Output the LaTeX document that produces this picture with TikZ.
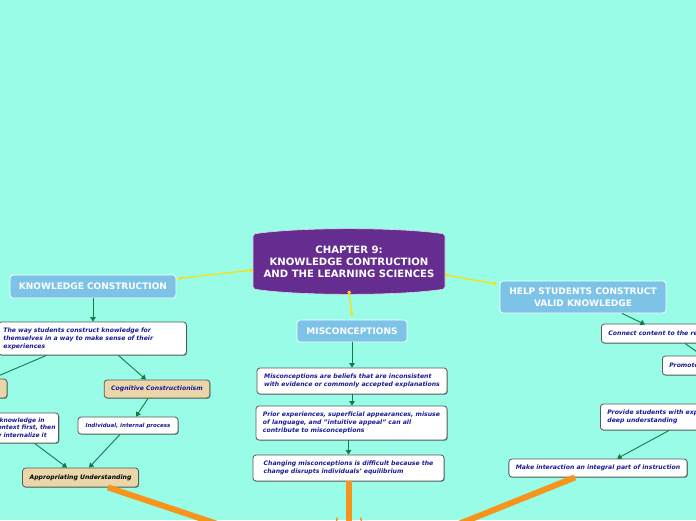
\documentclass[tikz,border=0pt]{standalone}
\usepackage{fontspec}
\setmainfont{DejaVu Sans}
\usetikzlibrary{arrows.meta,shadows}
\definecolor{bgc}{RGB}{152,252,230}
\definecolor{purp}{RGB}{102,45,145}
\definecolor{hdrc}{RGB}{125,195,232}
\definecolor{txtb}{RGB}{25,25,150}
\definecolor{grn}{RGB}{22,122,72}
\definecolor{tanc}{RGB}{234,214,168}
\definecolor{orng}{RGB}{247,148,29}
\definecolor{ylw}{RGB}{255,222,0}
\tikzset{
  boxshadow/.style={drop shadow={shadow xshift=0.8pt,shadow yshift=-0.8pt,opacity=0.35,fill=black}},
  whitebox/.style={draw=black!65, fill=white, rounded corners=3pt, line width=0.8pt,
    font=\fontsize{6.15}{8}\selectfont\bfseries\itshape, text=txtb, align=left,
    inner xsep=7pt, inner ysep=2pt, boxshadow},
  tanbox/.style={whitebox, fill=tanc, align=center},
  hdrbox/.style={fill=hdrc, draw=white, line width=0.8pt, rounded corners=3pt, text=white,
    font=\fontsize{9}{11.5}\selectfont\bfseries, align=center, inner sep=2pt},
  garrow/.style={draw=grn, line width=0.9pt, -{Triangle[length=4.5pt,width=5.5pt]}},
  yline/.style={draw=ylw, line width=1.2pt, {Circle[length=3.5pt]}-{Circle[length=3.5pt]}},
  oline/.style={draw=orng, line width=6pt},
}
\begin{document}
\begin{tikzpicture}[x=1pt,y=-1pt]
\useasboundingbox (0,0) rectangle (696,520);
\fill[bgc] (0,0) rectangle (696,520);
\clip (0,0) rectangle (696,520);

% central node
\filldraw[fill=purp, draw=white!80!purp, line width=0.6pt, rounded corners=2pt]
  (253,234) .. controls (300,227) and (398,227) .. (445,234) -- (445,289)
  .. controls (398,296) and (300,296) .. (253,289) -- cycle;
\node[text=white, font=\fontsize{10.1}{12}\selectfont\bfseries, align=center,
  minimum width=192pt, minimum height=62pt, inner sep=0pt] (center) at (349,261.5)
  {CHAPTER 9:\\KNOWLEDGE CONTRUCTION\\AND THE LEARNING SCIENCES};

% headers
\node[hdrbox, minimum width=166pt, minimum height=23pt] (kc) at (93,286.5) {KNOWLEDGE CONSTRUCTION};
\node[hdrbox, minimum width=110pt, minimum height=22pt] (mis) at (352,331) {MISCONCEPTIONS};
\node[hdrbox, minimum width=166pt, minimum height=32pt] (help) at (583,297) {HELP STUDENTS CONSTRUCT\\VALID KNOWLEDGE};

\coordinate (hub) at (349,568);

% left branch
\node[whitebox, anchor=west, text width=178pt, inner xsep=5pt, minimum height=33pt] (w1) at (-2,338.5)
  {The way students construct knowledge for\\themselves in a way to make sense of their\\experiences};
\node[tanbox, minimum width=54pt, minimum height=19pt] (tanl) at (-20,388.5) {};
\node[tanbox, minimum width=104pt, minimum height=18pt] (cog) at (157,389) {Cognitive Constructionism};
\node[whitebox, align=center, minimum width=100pt, minimum height=17pt,
  font=\fontsize{5.5}{7}\selectfont\bfseries\itshape] (ind) at (128,425.5) {Individual, internal process};
\node[whitebox, anchor=east, text width=58pt, inner xsep=3pt, minimum height=30pt,
  font=\fontsize{6}{7.6}\selectfont\bfseries\itshape] (cutw) at (59,428)
  {\hspace*{2pt}knowledge in\\ontext first, then\\y internalize it};
\node[tanbox, text=black, minimum width=115pt, minimum height=19pt] (appr) at (80.5,477.5) {Appropriating Understanding};

% middle branch
\node[whitebox, minimum width=190pt, minimum height=26pt] (m1) at (352,381)
  {Misconceptions are beliefs that are inconsistent\\with evidence or commonly accepted explanations};
\node[whitebox, minimum width=191pt, minimum height=34pt] (m2) at (351.5,423)
  {Prior experiences, superficial appearances, misuse\\of language, and "intuitive appeal" can all\\contribute to misconceptions};
\node[whitebox, minimum width=191pt, minimum height=26pt] (m3) at (348.5,468)
  {Changing misconceptions is difficult because the\\change disrupts individuals' equilibrium};

% right branch
\node[whitebox, anchor=west, minimum height=19pt] (conn) at (601,333.5)
  {Connect content to the real world};
\node[whitebox, anchor=west, minimum height=19pt] (prom) at (662,365.5)
  {Promote reflection};
\node[whitebox, anchor=west, minimum height=26pt] (prov) at (600,417)
  {Provide students with experiences for\\deep understanding};
\node[whitebox, align=center, minimum width=174pt, minimum height=18pt] (make) at (598,468)
  {Make interaction an integral part of instruction};

% yellow connectors
\draw[yline] ([yshift=-8.5pt]center.west) -- ([xshift=2pt,yshift=8pt]kc.east);
\draw[yline] ([yshift=2pt]center.south) -- ([yshift=4pt]mis.north);
\draw[yline] ([yshift=-13.5pt]center.east) -- ([xshift=-3pt,yshift=13pt]help.west);

% green connectors
\draw[garrow] (kc.south) -- (kc.south |- w1.north);
\draw[garrow] ([xshift=-46pt]w1.south) -- ([xshift=12pt]tanl.north);
\draw[garrow] ([xshift=26pt]w1.south) -- ([xshift=-11pt]cog.north);
\draw[garrow] ([xshift=-9pt]cog.south) -- ([xshift=8pt]ind.north);
\draw[garrow] ([xshift=8pt]cutw.south) -- ([xshift=-13.5pt]appr.north);
\draw[garrow] ([xshift=-8pt]ind.south) -- ([xshift=8.5pt]appr.north);
\draw[garrow] (mis.south) -- (m1.north);
\draw[garrow] (m1.south) -- (m1.south |- m2.north);
\draw[garrow] (m2.south -| m3.north) -- (m3.north);
\draw[garrow] ([xshift=39pt]help.south) -- (645,324.5);
\draw[garrow] (685,343.5) -- (703,356);
\draw[garrow] (669,430.5) -- ([xshift=19pt]make.north);

% orange connectors
\draw[oline] ([xshift=27.5pt]appr.south) -- (hub);
\draw[oline] ([xshift=0.5pt]m3.south) -- (hub);
\draw[oline] ([xshift=-23pt]make.south) -- (hub);
\draw[draw=orng, line width=1.5pt] (336.5,521) -- (337.5,517.5);
\draw[draw=orng, line width=1.5pt] (361.5,521) -- (360.5,517.5);
\end{tikzpicture}
\end{document}
